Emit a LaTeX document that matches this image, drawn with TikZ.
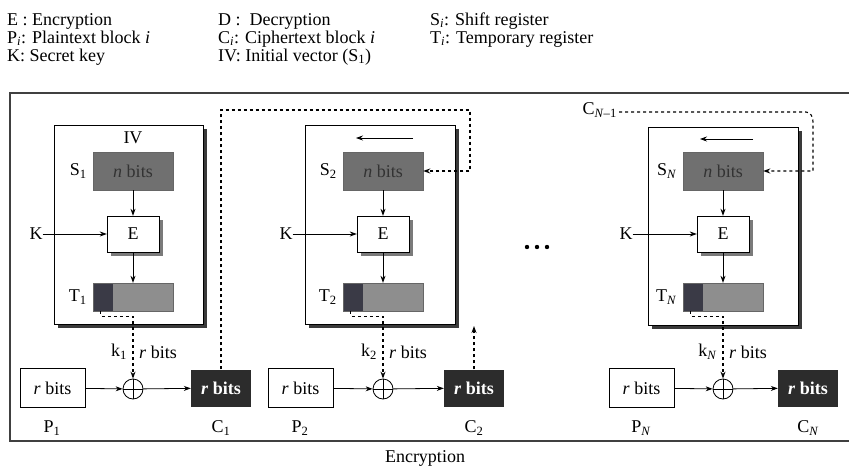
\documentclass[tikz,border=0pt]{standalone}
\usepackage{fontspec}
\setmainfont{Liberation Serif}
\usetikzlibrary{arrows.meta}
\newcommand\mysub[1]{\textsubscript{#1}}
\definecolor{sgray}{HTML}{707070}
\definecolor{tlight}{HTML}{8E8E8E}
\definecolor{tdark}{HTML}{3A3A46}
\definecolor{cdark}{HTML}{2C2C2C}
\definecolor{shad}{HTML}{3A3A3A}
\definecolor{eshad}{HTML}{7A7A7A}
\begin{document}
\begin{tikzpicture}[x=1pt,y=-1pt,
  every node/.style={font=\fontsize{18}{20}\selectfont, inner sep=0pt},
  arr/.style={-{Stealth[length=7pt,width=5pt]}, line width=0.8pt},
  fb/.style={dash pattern=on 3pt off 3pt, line width=1.1pt},
  sreg/.style={draw=black!60, fill=sgray, minimum width=80pt, minimum height=38pt},
  ebox/.style={draw, fill=white, minimum width=52pt, minimum height=36pt},
  treg/.style={draw=black!60, fill=tlight, minimum width=80pt, minimum height=28pt},
  pbox/.style={draw, line width=0.8pt, fill=white, minimum width=65pt, minimum height=39pt},
  cbox/.style={fill=cdark, text=white, minimum width=60pt, minimum height=37pt, font=\fontsize{18}{20}\selectfont\bfseries},
  xorc/.style={circle, draw, line width=0.8pt, minimum size=20pt},
  lbl/.style={anchor=base west}
]
\useasboundingbox (0,0) rectangle (849,469);
% legend
\node[lbl] (l1) at (7,25) {E : Encryption};
\node[lbl] (l2) at (7,43) {P\mysub{\textit{i}}: Plaintext block \textit{i}};
\node[lbl] (l3) at (7,61) {K: Secret key};
\node[lbl] (l4) at (218,25) {D :\ \ Decryption};
\node[lbl] (l5) at (218,43) {C\mysub{\textit{i}}: Ciphertext block \textit{i}};
\node[lbl] (l6) at (218,61) {IV: Initial vector (S\mysub{1})};
\node[lbl] (l7) at (430,25) {S\mysub{\textit{i}}: Shift register};
\node[lbl] (l8) at (430,43) {T\mysub{\textit{i}}: Temporary register};
% frame
\draw[line width=1.2pt, black!75] (849,93) -- (10,93) -- (10,441) -- (849,441);
\node (cap) at (425,458) {Encryption};
% stage boxes with shadows
\foreach \xa/\xb/\ya/\yb in {54/203/125/324, 305/455/125/324, 648/798/127/325}{
  \fill[shad] (\xa+4,\ya+4) rectangle (\xb+4,\yb+4);
  \draw[fill=white, line width=0.8pt] (\xa,\ya) rectangle (\xb,\yb);
}
% dots
\foreach \x in {527,537,547} \fill (\x,247) circle (2.2pt);
% stages
\foreach \c/\n/\m/\P/\Pa/\Pb/\Cx in {133/1/1/52/20/85/221, 383/2/2/300/268/333/474, 723/N/\textit{N}/641/608/675/808}{
  \node[sreg] (s\n) at (\c,171) {\textcolor{black!80}{\textit{n} bits}};
  \fill[eshad] (\c-22,220) rectangle (\c+30,256);
  \node[ebox] (e\n) at (\c,234) {E};
  \node[treg] (t\n) at (\c,297) {};
  \fill[tdark] (t\n.north west) rectangle ([xshift=20pt]t\n.south west);
  \draw[black!60] (t\n.north west) rectangle (t\n.south east);
  \node[anchor=east] (sl\n) at ([xshift=-6pt]s\n.west) {S\mysub{\m}};
  \node[anchor=east] (tl\n) at ([xshift=-6pt]t\n.west) {T\mysub{\m}};
  \node (k\n) at (\c-97,234) {K};
  \draw[arr] (k\n) -- (e\n.west);
  \draw[arr] (s\n) -- (e\n);
  \draw[arr] (e\n) -- (t\n);
  \node[xorc] (x\n) at (\c,389) {};
  \draw[line width=0.8pt] (x\n.north) -- (x\n.south) (x\n.west) -- (x\n.east);
  \coordinate (tb\n) at ([xshift=8pt]t\n.south west);
  \draw[fb, -{Stealth[length=7pt,width=5pt]}] (tb\n) -- ++(0,5) -| (x\n.north);
  \node[anchor=east] (kk\n) at (\c-6,352) {k\mysub{\m}};
  \node[anchor=west] (rb\n) at (\c+6,352) {\textit{r} bits};
  \node[pbox] (p\n) at ({(\Pa+\Pb)/2},388) {\textit{r} bits};
  \node (pl\n) at (\P,428) {P\mysub{\m}};
  \node[cbox] (cc\n) at (\Cx,388) {\textit{r} bits};
  \node (cl\n) at (\Cx,428) {C\mysub{\m}};
  \draw[arr] (p\n) -- (x\n);
  \draw[arr] (x\n) -- (cc\n);
}
% IV and shift arrows
\node (iv) at (133,138) {IV};
\coordinate (sh2a) at (413,138); \coordinate (sh2b) at (356,138);
\coordinate (shNa) at (753,139); \coordinate (shNb) at (700,139);
\draw[arr] (sh2a) -- (sh2b);
\draw[arr] (shNa) -- (shNb);
% feedback lines
\draw[fb, -{Stealth[length=7pt,width=5pt]}] (cc1.north) -- (221,110) -- (470,110) |- (s2.east);
\coordinate (up2) at (474,326);
\draw[fb, -{Stealth[length=7pt,width=5pt]}] (cc2.north) -- (up2);
\node[anchor=east] (cn1) at (617,110) {C\mysub{\textit{N}--1}};
\draw[fb, -{Stealth[length=7pt,width=5pt]}] (cn1.east) ++(2,2) -- (806,112) to[out=0,in=90] (813,122) |- (sN.east);
\end{tikzpicture}
\end{document}
